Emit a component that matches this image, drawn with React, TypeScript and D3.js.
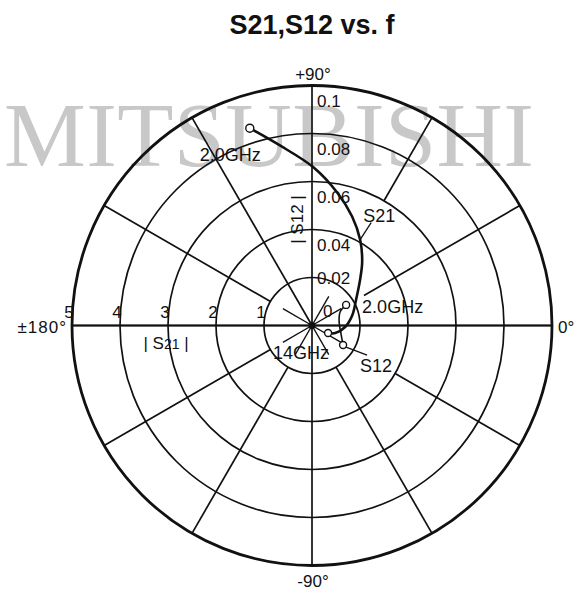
import React from "react";
import * as d3 from "d3";

// chart frame
const W = 575, H = 590;
const cx = 312, cy = 325.5, R = 240;

// |S21| rings and S12 scale labels
const s21Rings = [1, 2, 3, 4, 5];
const s12Ticks = [0, 0.02, 0.04, 0.06, 0.08, 0.1];
const s12Labels = ["0", "0.02", "0.04", "0.06", "0.08", "0.1"];

// spokes every 30 deg, and where each one starts (in |S21| units)
const spokeAngles = [0, 30, 60, 90, 120, 150, 180, 210, 240, 270, 300, 330];
const spokeFrom = [0, 1.25, 3, 0, 0, 1, 0, 1, 1, 0, 1, 2];

// S21, 2.0GHz -> 14GHz (magnitude, angle deg)
const s21Mag = [4.31, 3.81, 3.3, 2.82, 2.42, 2.05, 1.69, 1.38, 1.06, 0.87, 0.69, 0.51, 0.37];
const s21Ang = [107.5, 100.1, 89.6, 79.3, 69.8, 60.7, 51.8, 43.5, 30.1, 14.7, -2.6, -18.1, -25.1];

// S12, 2.0GHz -> 14GHz
const s12Mag = [0.0166, 0.013, 0.0114, 0.0126, 0.0153];
const s12Ang = [31.1, 25.7, 7.4, -16.3, -32.2];

const sans = "'Liberation Sans', Arial, Helvetica, sans-serif";

function pt(r: number, deg: number): [number, number] {
  const a = (deg * Math.PI) / 180;
  return [cx + r * Math.cos(a), cy - r * Math.sin(a)];
}

export default function App() {
  const rS21 = d3.scaleLinear().domain([0, 5]).range([0, R]);
  const rS12 = d3.scaleLinear().domain([0, 0.1]).range([0, R]);

  const line = d3.line<[number, number]>().curve(d3.curveCatmullRom.alpha(0.5));

  const s21Pts = s21Mag.map((m, i) => pt(rS21(m), s21Ang[i]));
  const s12Pts = s12Mag.map((m, i) => pt(rS12(m), s12Ang[i]));

  const s21Start = s21Pts[0];
  const s21End = s21Pts[s21Pts.length - 1];
  const s12Start = s12Pts[0];
  const s12End = s12Pts[s12Pts.length - 1];
  const s21Lead = s21Pts[5];

  const step = rS12(0.02);

  return (
    <svg width={W} height={H} style={{ display: "block", position: "absolute", left: 0, top: 0 }}>
      <rect width={W} height={H} fill="#fff" />

      {/* watermark */}
      <text x={4} y={166} fontFamily="'Liberation Serif', 'Times New Roman', serif" fontSize={92}
        fill="#c8c8c8" textLength={530} lengthAdjust="spacing">MITSUBISHI</text>

      {/* title */}
      <text x={312} y={34} textAnchor="middle" fontFamily={sans} fontWeight="bold" fontSize={27} fill="#111">
        S21,S12 vs. f
      </text>

      {/* rings */}
      <g fill="none" stroke="#111">
        {s21Rings.map((k) => (
          <circle key={k} cx={cx} cy={cy} r={rS21(k)} strokeWidth={k === 5 ? 2.8 : 1.7} />
        ))}
      </g>

      {/* spokes */}
      <g stroke="#111" strokeWidth={1.7}>
        {spokeAngles.map((a, i) => {
          const p0 = pt(rS21(spokeFrom[i]), a);
          const p1 = pt(R, a);
          return <line key={a} x1={p0[0]} y1={p0[1]} x2={p1[0]} y2={p1[1]} />;
        })}
        {spokeAngles.filter((_, i) => spokeFrom[i] > 0).map((a) => {
          const p1 = pt(rS21(0.7), a);
          return <line key={"s" + a} x1={cx} y1={cy} x2={p1[0]} y2={p1[1]} strokeWidth={1.4} />;
        })}
        <line x1={cx - R} y1={cy} x2={cx + R} y2={cy} strokeWidth={2} />
      </g>
      <circle cx={cx} cy={cy} r={3.5} fill="#111" />

      {/* |S21| ring labels */}
      <g fontFamily={sans} fontSize={17} fill="#111" textAnchor="middle">
        {s21Rings.map((k) => (
          <text key={k} x={cx - rS21(k) - 3} y={cy - 8}>{k}</text>
        ))}
        <text x={166} y={349}>
          {"| S"}<tspan fontSize={14}>21</tspan>{" |"}
        </text>
      </g>

      {/* S12 labels up the +90 axis */}
      <g fontFamily={sans} fontSize={17} fill="#111">
        {s12Ticks.map((v, i) => {
          const y = v === 0 ? cy - 9 : v === 0.02 ? cy - step + 6 : cy - rS12(v) + step / 2 - 3;
          return <text key={v} x={v === 0 ? cx + 11 : cx + 5} y={y}>{s12Labels[i]}</text>;
        })}
        <text transform={`translate(${cx - 9},${cy - 106}) rotate(-90)`} textAnchor="middle">| S12 |</text>
      </g>

      {/* angle labels */}
      <g fontFamily={sans} fontSize={17} fill="#111">
        <text x={cx + 1} y={cy - R - 6} textAnchor="middle">+90°</text>
        <text x={cx + 1} y={587} textAnchor="middle">-90°</text>
        <text x={cx - R - 5} y={cy + 7} textAnchor="end" letterSpacing={1}>±180°</text>
        <text x={cx + R + 6} y={cy + 7}>0°</text>
      </g>

      {/* traces */}
      <path d={line(s21Pts) ?? ""} fill="none" stroke="#111" strokeWidth={2.6} />
      <path d={line(s12Pts) ?? ""} fill="none" stroke="#111" strokeWidth={1.6} />
      <g fill="#fff" stroke="#111" strokeWidth={1.4}>
        <circle cx={s21Start[0]} cy={s21Start[1]} r={4} />
        <circle cx={s21End[0]} cy={s21End[1]} r={3.5} />
        <circle cx={s12Start[0]} cy={s12Start[1]} r={3.5} />
        <circle cx={s12End[0]} cy={s12End[1]} r={3.5} />
      </g>

      {/* leaders */}
      <g stroke="#111" strokeWidth={1.3}>
        <line x1={s21Lead[0]} y1={s21Lead[1]} x2={s21Lead[0] + 11} y2={s21Lead[1] - 17} />
        <line x1={s12End[0] + 3} y1={s12End[1] + 2} x2={s12End[0] + 24} y2={s12End[1] + 10} />
      </g>

      {/* annotations */}
      <g fontFamily={sans} fontSize={18} fill="#111">
        <text x={s21Start[0] - 50} y={s21Start[1] + 33}>2.0GHz</text>
        <text x={s12Start[0] + 16} y={s12Start[1] + 8}>2.0GHz</text>
        <text x={s21End[0] - 55} y={s21End[1] + 26}>14GHz</text>
        <text x={s21Lead[0] + 3} y={s21Lead[1] - 18}>S21</text>
        <text x={s12End[0] + 17} y={s12End[1] + 27}>S12</text>
      </g>
    </svg>
  );
}
